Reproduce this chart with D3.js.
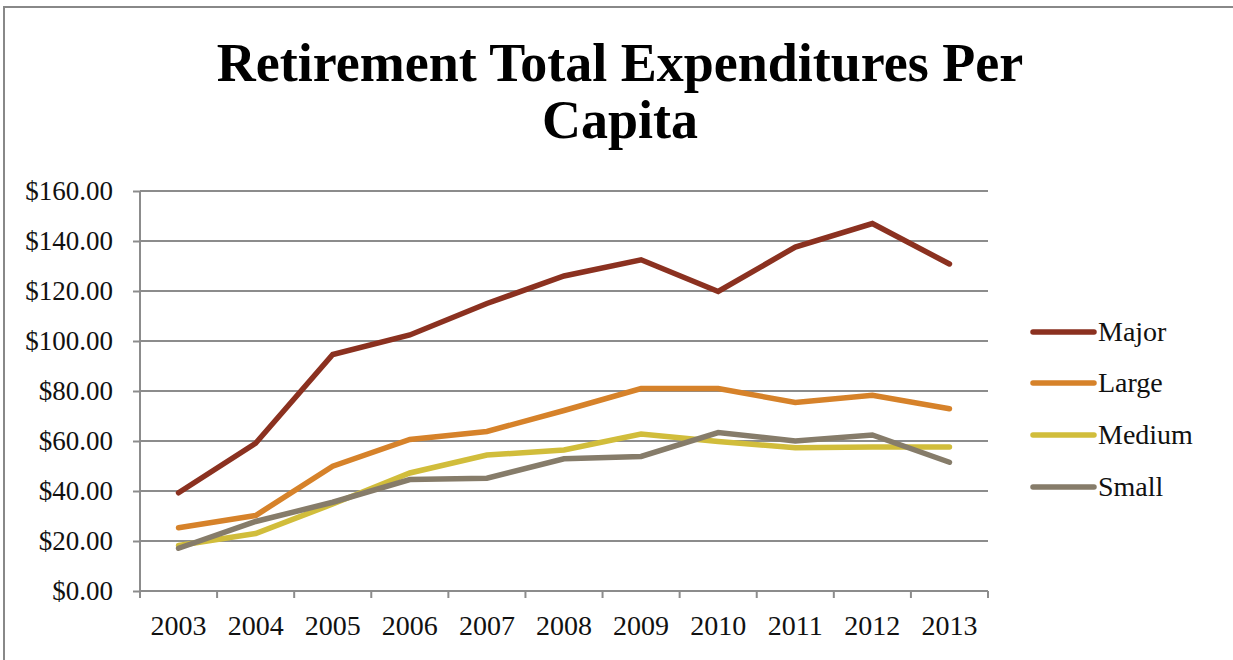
<!DOCTYPE html>
<html><head><meta charset="utf-8">
<script src="https://cdn.jsdelivr.net/npm/d3@7"></script>
<style>body{margin:0;background:#fff;}svg{display:block;}</style>
</head><body>
<svg id="c" width="1233" height="660"></svg>
<script>
const categories = ["2003","2004","2005","2006","2007","2008","2009","2010","2011","2012","2013"];
const seriesNames = ["Major","Large","Medium","Small"];
const major  = [39.3, 59.1, 94.6, 102.4, 115.0, 126.0, 132.5, 119.8, 137.6, 147.0, 130.8];
const large  = [25.3, 30.2, 49.9, 60.6, 63.8, 72.2, 81.0, 81.0, 75.4, 78.3, 72.9];
const medium = [18.2, 23.0, 34.8, 47.2, 54.4, 56.4, 62.8, 59.8, 57.3, 57.6, 57.6];
const small  = [17.1, 27.8, 35.5, 44.6, 45.1, 52.9, 53.8, 63.4, 60.0, 62.4, 51.5];
const yTicks = [0,20,40,60,80,100,120,140,160];
const colors = ["#8b3120","#d6822a","#d1bd3b","#867c6a"];
const values = [major, large, medium, small];

const svg = d3.select("#c");
const font = "'Liberation Serif', 'Times New Roman', serif";
const L = 140, R = 988, T = 191, B = 591;

// frame
svg.append("rect").attr("x",4).attr("y",7).attr("width",1300).attr("height",700)
  .attr("fill","none").attr("stroke","#888").attr("stroke-width",2);

const x = d3.scaleBand().domain(categories).range([L,R]).padding(0);
const y = d3.scaleLinear().domain([0,160]).range([B,T]);

// gridlines
svg.append("g").selectAll("line").data(yTicks.filter(d=>d>0)).join("line")
  .attr("x1",L).attr("x2",R).attr("y1",d=>y(d)).attr("y2",d=>y(d))
  .attr("stroke","#8c8c8c").attr("stroke-width",2);

// y axis
const ya = svg.append("g").attr("transform",`translate(${L},0)`)
  .call(d3.axisLeft(y).tickValues(yTicks).tickSize(7).tickPadding(20).tickFormat(d=>"$"+d3.format(".2f")(d)));
ya.select(".domain").attr("stroke","#8c8c8c").attr("stroke-width",2).attr("d",`M0,${T}V${B}`);
ya.selectAll(".tick line").attr("stroke","#8c8c8c").attr("stroke-width",2);
ya.selectAll("text").attr("font-family",font).attr("font-size",27).attr("fill","#111");

// x axis
const xa = svg.append("g").attr("transform",`translate(0,${B})`)
  .call(d3.axisBottom(x).tickSize(0).tickPadding(24));
xa.select(".domain").attr("stroke","#8c8c8c").attr("stroke-width",2).attr("d",`M${L},0H${R}`);
xa.selectAll("text").attr("font-family",font).attr("font-size",28).attr("fill","#111");
const bounds = categories.map(c=>x(c)).concat([R]);
xa.append("g").selectAll("line").data(bounds).join("line")
  .attr("x1",d=>d).attr("x2",d=>d).attr("y1",0).attr("y2",7)
  .attr("stroke","#8c8c8c").attr("stroke-width",2);

// lines
const line = d3.line().x((d,i)=>x(categories[i])+x.bandwidth()/2).y(d=>y(d));
svg.append("g").selectAll("path").data(values).join("path")
  .attr("d",d=>line(d)).attr("fill","none")
  .attr("stroke",(d,i)=>colors[i]).attr("stroke-width",5.5)
  .attr("stroke-linejoin","miter").attr("stroke-linecap","round");

// legend
const lg = svg.append("g");
const ly = [332, 383, 435, 487];
seriesNames.forEach((n,i)=>{
  lg.append("line").attr("x1",1033).attr("x2",1094).attr("y1",ly[i]).attr("y2",ly[i])
    .attr("stroke",colors[i]).attr("stroke-width",5.5).attr("stroke-linecap","round");
  lg.append("text").attr("x",1098).attr("y",ly[i]+9).text(n)
    .attr("font-family",font).attr("font-size",28).attr("fill","#111");
});

// title
const title = svg.append("text").attr("text-anchor","middle").attr("font-family",font)
  .attr("font-weight","bold").attr("font-size",54).attr("fill","#000");
title.append("tspan").attr("x",620).attr("y",81).text("Retirement Total Expenditures Per");
title.append("tspan").attr("x",620).attr("y",138).text("Capita");
</script>
</body></html>
